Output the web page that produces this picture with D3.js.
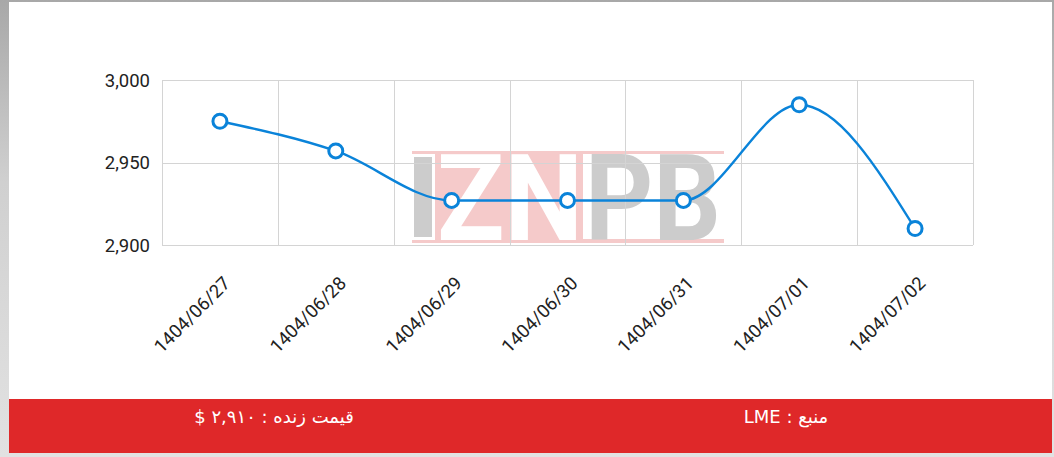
<!DOCTYPE html>
<html>
<head>
<meta charset="utf-8">
<script src="https://cdn.jsdelivr.net/npm/d3@7"></script>
<style>
html,body{margin:0;padding:0;}
body{width:1054px;height:457px;overflow:hidden;background:linear-gradient(180deg,#a8a8a8 0%,#d0d0d0 40%,#e2e2e2 100%);}
svg{display:block;}
</style>
</head>
<body>
<svg id="chart" width="1054" height="457"></svg>
<script>
const categories = ["1404/06/27","1404/06/28","1404/06/29","1404/06/30","1404/06/31","1404/07/01","1404/07/02"];
const prices = [2975, 2957, 2927, 2927, 2927, 2985, 2910];
const yTicks = [2900, 2950, 3000];
const footerPrice = "قیمت زنده : ۲,۹۱۰ $";
const footerSource = "منبع : LME";

const svg = d3.select("#chart");

// panel
svg.append("rect").attr("x",9).attr("y",2).attr("width",1043).attr("height",451).attr("fill","#fff");

const m = {left:162, right:973, top:80, bottom:245};
const x = d3.scaleBand().domain(categories).range([m.left, m.right]);
const y = d3.scaleLinear().domain([2900, 3000]).range([m.bottom, m.top]);

// watermark
const wm = svg.append("g");
wm.append("rect").attr("x",412).attr("y",151).attr("width",171).attr("height",92).attr("fill","#f5caca");
wm.append("rect").attr("x",583).attr("y",151).attr("width",141).attr("height",3).attr("fill","#f5caca");
wm.append("rect").attr("x",583).attr("y",239).attr("width",141).attr("height",4).attr("fill","#f5caca");
wm.append("rect").attr("x",411).attr("y",154).attr("width",24).attr("height",86).attr("fill","#fff");
wm.append("rect").attr("x",414).attr("y",157).attr("width",18).attr("height",80).attr("fill","#cccccc");
wm.append("text").attr("x",437).attr("y",240).attr("font-family","Roboto, Arial, sans-serif").attr("font-weight","bold")
  .attr("font-size",120).attr("fill","#fff").attr("textLength",146).attr("lengthAdjust","spacingAndGlyphs").text("ZN");
wm.append("text").attr("x",585).attr("y",240).attr("font-family","Roboto, Arial, sans-serif").attr("font-weight","bold")
  .attr("font-size",120).attr("fill","#cccccc").attr("textLength",136).attr("lengthAdjust","spacingAndGlyphs").text("PB");

// grid
const grid = svg.append("g").attr("stroke","#d4d4d4").attr("stroke-width",1);
categories.forEach(c => {
  grid.append("line").attr("x1",Math.round(x(c))+0.5).attr("x2",Math.round(x(c))+0.5).attr("y1",m.top).attr("y2",m.bottom);
});
grid.append("line").attr("x1",m.right+0.5).attr("x2",m.right+0.5).attr("y1",m.top).attr("y2",m.bottom);
yTicks.forEach(t => {
  grid.append("line").attr("x1",m.left).attr("x2",m.right).attr("y1",Math.round(y(t))+0.5).attr("y2",Math.round(y(t))+0.5);
});

// y labels
const fmt = d3.format(",");
svg.append("g").selectAll("text").data(yTicks).join("text")
  .attr("x",150).attr("y",d=>y(d)+2).attr("text-anchor","end").attr("dominant-baseline","middle")
  .attr("font-family","Roboto, Arial, sans-serif").attr("font-size",18.5).attr("fill","#222")
  .text(d=>fmt(d));

// x labels
svg.append("g").selectAll("text").data(categories).join("text")
  .attr("transform",d=>`translate(${x(d)+x.bandwidth()/2+8},${281}) rotate(-45)`)
  .attr("text-anchor","end").attr("dominant-baseline","middle")
  .attr("font-family","Roboto, Arial, sans-serif").attr("font-size",18.5).attr("fill","#222")
  .text(d=>d);

// line
const cx = d => x(d) + x.bandwidth()/2;
const line = d3.line().x((d,i)=>cx(categories[i])).y(d=>y(d)).curve(d3.curveMonotoneX);
svg.append("path").datum(prices).attr("d",line).attr("fill","none").attr("stroke","#0a83d9").attr("stroke-width",2.4);
svg.append("g").selectAll("circle").data(prices).join("circle")
  .attr("cx",(d,i)=>cx(categories[i])).attr("cy",d=>y(d)).attr("r",7)
  .attr("fill","#fff").attr("stroke","#0a83d9").attr("stroke-width",3);

// footer
svg.append("rect").attr("x",9).attr("y",399).attr("width",1043).attr("height",54).attr("fill","#df2829");
svg.append("text").attr("x",274).attr("y",418).attr("text-anchor","middle").attr("dominant-baseline","middle")
  .attr("direction","rtl").attr("font-family","DejaVu Sans, sans-serif").attr("font-size",18).attr("fill","#fff")
  .text(footerPrice);
svg.append("text").attr("x",786).attr("y",418).attr("text-anchor","middle").attr("dominant-baseline","middle")
  .attr("direction","rtl").attr("font-family","DejaVu Sans, sans-serif").attr("font-size",18).attr("fill","#fff")
  .text(footerSource);
</script>
</body>
</html>
